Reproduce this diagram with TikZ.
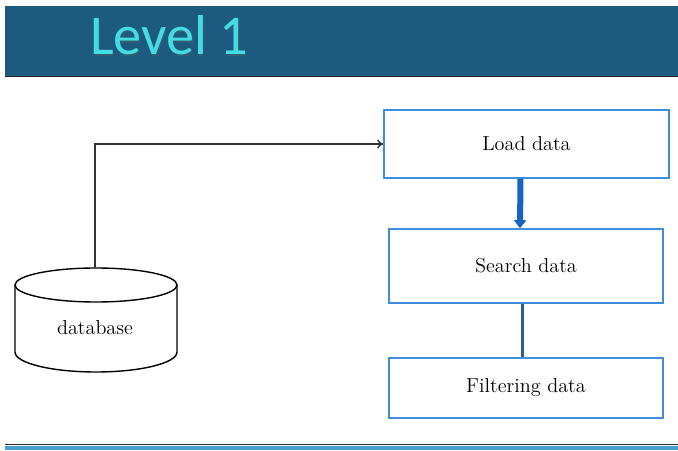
\documentclass[tikz,border=0pt]{standalone}
\usepackage{fontspec}
\newfontfamily\titlefont{Carlito}
\usetikzlibrary{arrows.meta}
\definecolor{bandblue}{HTML}{1C5A80}
\definecolor{bandmid}{HTML}{2D7DA8}
\definecolor{titlecyan}{HTML}{44DCE4}
\definecolor{boxblue}{HTML}{3F8EDB}
\definecolor{flowblue}{HTML}{1565C0}
\definecolor{linkblue}{HTML}{2E5F90}
\definecolor{footblue}{HTML}{48A0D0}
\tikzset{
  stepbox/.style={draw=boxblue, line width=0.032cm, minimum width=5.50cm, font=\fontsize{11.5}{14}\selectfont},
  link/.style={draw=black!80, line width=0.028cm}
}
\begin{document}
\begin{tikzpicture}
  \useasboundingbox (0,0) rectangle (13.56,9);

  % Drawing title band
  \shade [left color=bandblue, middle color=bandmid, right color=bandblue] (0.10,7.48) rectangle (13.56,8.86);%
  \draw [line width=0.034cm, black!85] (0.10,7.47) -- (13.56,7.47);%
  \node [anchor=base west, text=black!60, opacity=0.35, font=\titlefont\fontsize{32}{36}\selectfont] at (1.70,7.86) {Level 1};%
  \node (title) [anchor=base west, text=titlecyan, font=\titlefont\fontsize{32}{36}\selectfont] at (1.68,7.90) {Level 1};%

  % Drawing footer band
  \fill [footblue] (0.10,0) rectangle (13.56,0.09);%
  \draw [line width=0.034cm, black!85] (0.10,0.11) -- (13.56,0.11);%

  % Drawing cylinder database
  \draw [line width=0.028cm] (1.92,3.30) ellipse (1.62 and 0.34);%
  \draw [line width=0.028cm] (0.30,3.30) -- (0.30,1.96) arc (180:360:1.62 and 0.40) -- (3.54,3.30);%
  \node (db) [font=\fontsize{11.5}{14}\selectfont] at (1.90,2.44) {database};%
  \coordinate (dbtop) at (1.90,3.64);

  % Drawing boxes
  \node (load) [stepbox, minimum width=5.70cm, minimum height=1.36cm] at (10.53,6.12) {Load data};%
  \node (search) [stepbox, minimum width=5.48cm, minimum height=1.48cm] at (10.52,3.68) {Search data};%
  \node (filter) [stepbox, minimum width=5.48cm, minimum height=1.20cm] at (10.52,1.24) {Filtering data};%

  % Drawing connectors
  \draw [link, -{To[length=0.12cm, width=0.18cm]}] (dbtop) |- (load.west);%
  \draw [flowblue, line width=0.12cm, -{Triangle[length=0.16cm, width=0.24cm]}] ([xshift=-0.12cm]load.south) -- ([xshift=-0.12cm]search.north);%
  \draw [linkblue, line width=0.06cm] ([xshift=-0.08cm]search.south) -- ([xshift=-0.08cm]filter.north);%
\end{tikzpicture}
\end{document}
